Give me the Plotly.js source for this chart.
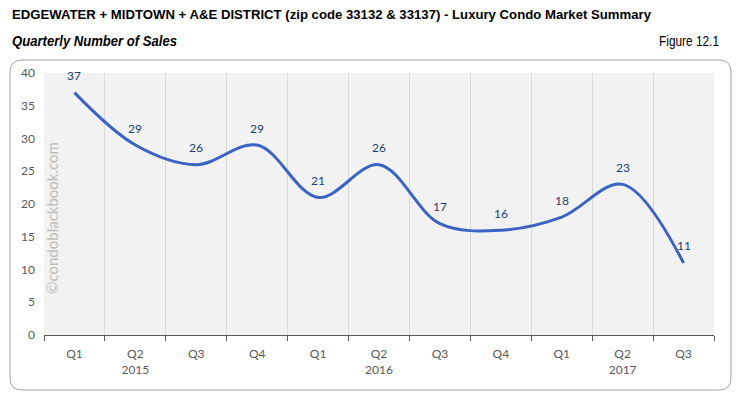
<!DOCTYPE html>
<html><head><meta charset="utf-8">
<script src="https://cdn.plot.ly/plotly-3.0.1.min.js"></script>
<style>html,body{margin:0;padding:0;background:#fff}#chart{width:738px;height:395px}</style>
</head><body><div id="chart"></div>
<script>
const quarters = ["Q1","Q2","Q3","Q4","Q1","Q2","Q3","Q4","Q1","Q2","Q3"];
const yearLabels = ["","2015","","","","2016","","","","2017",""];
const sales = [37,29,26,29,21,26,17,16,18,23,11];

const idx = quarters.map((_, i) => i);
const tickText = quarters.map((q, i) => yearLabels[i] ? q + "<br>" + yearLabels[i] : q);
const bounds = [...quarters.map((_, i) => i - 0.5), quarters.length - 0.5];

const trace = {
  x: idx, y: sales, type: 'scatter', mode: 'lines',
  line: {shape: 'spline', smoothing: 1.0, color: '#3a63c4', width: 3},
  hoverinfo: 'none', showlegend: false
};
const gridTrace = {
  x: bounds, y: bounds.map(() => null), xaxis: 'x2', type: 'scatter', mode: 'lines',
  showlegend: false, hoverinfo: 'none'
};

const W = 670, H = 262;
const px = v => v / W, py = v => v / H;
const L = -34, R = 687, T = 275, B = -55, rad = 12;
const border = 'M ' + px(L) + ',' + py(B + rad) +
  ' L ' + px(L) + ',' + py(T - rad) +
  ' Q ' + px(L) + ',' + py(T) + ' ' + px(L + rad) + ',' + py(T) +
  ' L ' + px(R - rad) + ',' + py(T) +
  ' Q ' + px(R) + ',' + py(T) + ' ' + px(R) + ',' + py(T - rad) +
  ' L ' + px(R) + ',' + py(B + rad) +
  ' Q ' + px(R) + ',' + py(B) + ' ' + px(R - rad) + ',' + py(B) +
  ' L ' + px(L + rad) + ',' + py(B) +
  ' Q ' + px(L) + ',' + py(B) + ' ' + px(L) + ',' + py(B + rad) + ' Z';

const labelAnns = sales.map((v, i) => ({
  x: idx[i], y: v, xref: 'x', yref: 'y', text: String(v), showarrow: false,
  yshift: 17, font: {family: 'Lato, sans-serif', size: 12, color: '#1f3c6e'}
}));

const titleFont = {family: '"Liberation Sans", Arial, sans-serif', size: 14, color: '#000'};
const layout = {
  width: 738, height: 395,
  margin: {l: 44, r: 24, t: 73, b: 60},
  paper_bgcolor: '#ffffff', plot_bgcolor: '#f2f2f2',
  xaxis: {
    range: [-0.5, quarters.length - 0.5], tickvals: idx, ticktext: tickText,
    showgrid: false, zeroline: false, ticks: '', showline: false, ticklabelstandoff: 10,
    tickfont: {family: 'Lato, sans-serif', size: 12, color: '#595959'}, fixedrange: true
  },
  xaxis2: {
    overlaying: 'x', range: [-0.5, quarters.length - 0.5], tickvals: bounds,
    showticklabels: false, showgrid: true, gridcolor: '#d9d9d9', gridwidth: 1,
    ticks: 'outside', ticklen: 5, tickcolor: '#595959', side: 'bottom',
    showline: true, linecolor: '#595959', linewidth: 1, zeroline: false
  },
  yaxis: {
    range: [0, 40], dtick: 5, showgrid: false, zeroline: false, showline: false,
    ticks: '', ticklabelstandoff: 8,
    tickfont: {family: 'Lato, sans-serif', size: 12, color: '#595959'}, fixedrange: true
  },
  shapes: [{
    type: 'path', xref: 'paper', yref: 'paper', layer: 'below', path: border,
    line: {color: '#a6a6a6', width: 1}
  }],
  annotations: [
    {text: '<b>EDGEWATER + MIDTOWN + A&E DISTRICT (zip code 33132 & 33137) - Luxury Condo Market Summary</b>',
     xref: 'paper', yref: 'paper', x: px(-32), y: py(335 - 15), xanchor: 'left', yanchor: 'middle',
     showarrow: false, font: Object.assign({}, titleFont, {size: 13.5})},
    {text: '<b><i>Quarterly Number of Sales</i></b>',
     xref: 'paper', yref: 'paper', x: px(-32), y: py(335 - 41), xanchor: 'left', yanchor: 'middle',
     showarrow: false, font: titleFont},
    {text: 'Figure 12.1',
     xref: 'paper', yref: 'paper', x: px(675), y: py(335 - 41), xanchor: 'right', yanchor: 'middle',
     showarrow: false, font: titleFont},
    {text: '©condoblackbook.com', textangle: -90,
     xref: 'paper', yref: 'paper', x: px(8), y: py(335 - 218), xanchor: 'center', yanchor: 'middle',
     showarrow: false, font: {family: 'Lato, sans-serif', size: 15, color: '#bdbdbd'}}
  ].concat(labelAnns)
};
Plotly.newPlot('chart', [gridTrace, trace], layout, {staticPlot: true, displayModeBar: false}).then(() => {
  // condense header texts to mimic the narrow font of the original: [index, left, width] in page px
  const targets = [[0, 12, 639], [1, 12, 165], [2, 659, 60]];
  const anns = document.querySelectorAll('.annotation');
  const chartRect = document.getElementById('chart').getBoundingClientRect();
  targets.forEach(([i, left, len]) => {
    const t = anns[i] && anns[i].querySelector('text');
    if (!t) return;
    const ctm = t.getScreenCTM();
    const localX = (left + chartRect.left - ctm.e) / ctm.a;
    t.setAttribute('text-anchor', 'start');
    t.style.textAnchor = 'start';
    t.setAttribute('x', localX);
    t.querySelectorAll('tspan[x]').forEach(s => s.setAttribute('x', localX));
    t.setAttribute('textLength', len);
    t.setAttribute('lengthAdjust', 'spacingAndGlyphs');
  });
});
</script></body></html>
